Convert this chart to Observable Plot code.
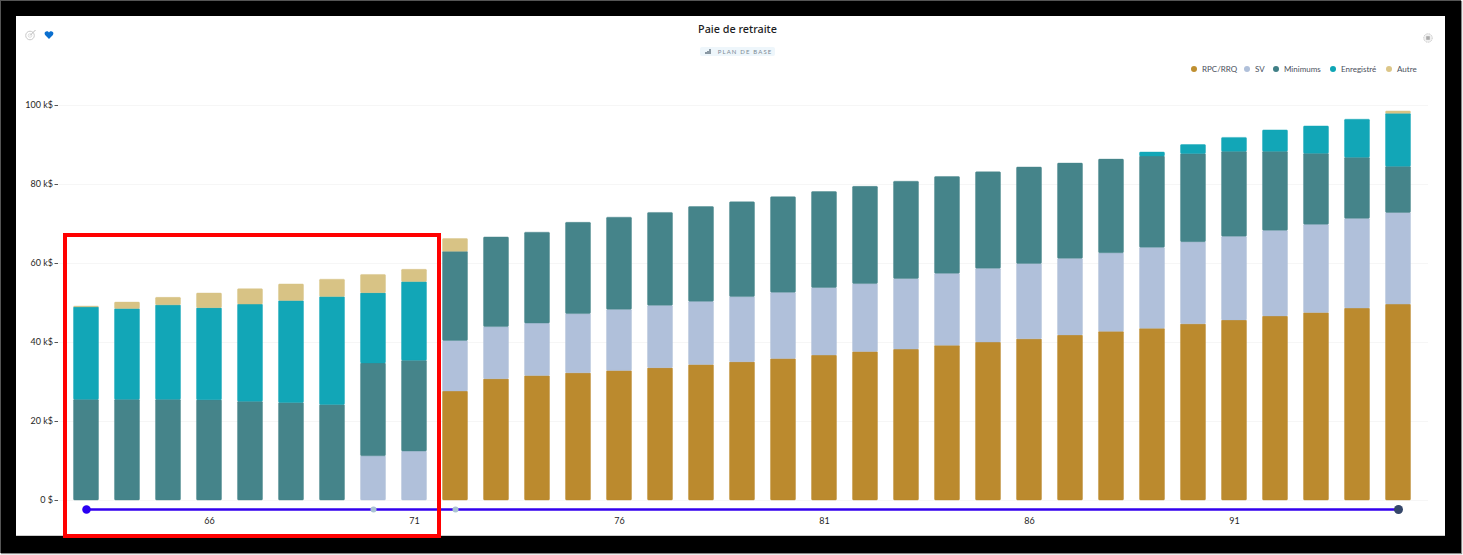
<!DOCTYPE html>
<html lang="fr">
<head>
<meta charset="utf-8">
<script src="https://cdn.jsdelivr.net/npm/d3@7"></script>
<script src="https://cdn.jsdelivr.net/npm/@observablehq/plot@0.6"></script>
<style>
  html, body { margin: 0; padding: 0; background: #fff; width: 1463px; height: 555px; overflow: hidden; font-family: "Lato", sans-serif; }
  #frame { position: absolute; left: 0; top: 0; width: 1461px; height: 553px; background: #000; border-top: 1px solid #555; border-left: 1px solid #555; box-sizing: border-box; box-shadow: 1px 1px 1px #888; }
  #panel { position: absolute; left: 16px; top: 16px; width: 1429px; height: 520px; background: #fff; border-bottom: 1px solid #ccc; box-sizing: border-box; }
  #chart { position: absolute; left: 0; top: 0; }
  #chart svg { background: transparent; display: block; }
  #title { position: absolute; left: 537.5px; width: 400px; top: 21px; text-align: center; font-family: "Noto Sans", sans-serif; font-size: 10.8px; font-weight: 500; color: #1c1c22; line-height: 16px; }
  #badge { position: absolute; left: 700px; top: 47px; width: 75px; height: 9px; background: #eef6fb; border-radius: 2px; font-size: 6px; letter-spacing: 1.15px; color: #7d8a94; line-height: 9px; text-align: right; padding-right: 2.5px; box-sizing: border-box; white-space: nowrap; }
  #badge svg { position: absolute; left: 5px; top: 2px; }
  .legend-item { position: absolute; top: 62.5px; height: 13px; line-height: 13px; font-size: 8px; color: #4a4f5c; white-space: nowrap; }
  .legend-dot { position: absolute; top: 68.5px; width: 6px; height: 6px; margin: -3px 0 0 -3px; border-radius: 50%; }
  #redbox { position: absolute; left: 63px; top: 233px; width: 378px; height: 305px; border: 4px solid #ff0000; box-sizing: border-box; }
  .icon { position: absolute; }
</style>
</head>
<body>
<div id="frame"></div>
<div id="panel"></div>
<div id="chart"></div>
<div id="title">Paie de retraite</div>
<div id="badge"><svg width="7" height="5" viewBox="0 0 7 5"><path d="M0 5V3h2V2h2V0h2v5z" fill="#8a98a3"/></svg>PLAN DE BASE</div>
<div id="legend"></div>
<svg class="icon" style="left:24px;top:29px" width="13" height="12" viewBox="0 0 13 12"><circle cx="6" cy="6.5" r="4.3" fill="none" stroke="#c9c9c9" stroke-width="1"/><circle cx="6" cy="6.5" r="1.8" fill="none" stroke="#d4d4d4" stroke-width="0.8"/><path d="M6 6.5L11.5 1" stroke="#bbb" stroke-width="1"/></svg>
<svg class="icon" style="left:44px;top:31px" width="10" height="8" viewBox="0 0 10 9"><path d="M5 9L0.6 4.4C-0.6 2.8 0.2 0.3 2.5 0.2 3.6 0.2 4.5 0.8 5 1.6 5.5 0.8 6.4 0.2 7.5 0.2 9.8 0.3 10.6 2.8 9.4 4.4z" fill="#0a6fcf"/></svg>
<svg class="icon" style="left:1423px;top:33px" width="10" height="10" viewBox="0 0 10 10"><circle cx="5" cy="5" r="4.3" fill="#f0f0f0" stroke="#c4c4c4" stroke-width="0.9" stroke-dasharray="1.2 0.7"/><rect x="3.2" y="3.2" width="3.6" height="3.6" fill="#aaa"/></svg>
<div id="redbox"></div>
<script>
const ages = [63,64,65,66,67,68,69,70,71,72,73,74,75,76,77,78,79,80,81,82,83,84,85,86,87,88,89,90,91,92,93,94,95];
const seriesNames = ["RPC/RRQ","SV","Minimums","Enregistré","Autre"];
const seriesColors = ["#bb8a2e","#b0c0da","#45848a","#12a6b7","#d8c385"];
const legendSwatches = ["#bf8f30","#b0c0da","#3f7f86","#0ea5b5","#dcc688"];
const rpc = [0,0,0,0,0,0,0,0,0,27.6,30.7,31.5,32.2,32.8,33.5,34.3,35.0,35.8,36.7,37.6,38.2,39.2,40.0,40.8,41.8,42.7,43.5,44.6,45.6,46.6,47.5,48.6,49.6];
const sv = [0,0,0,0,0,0,0,11.2,12.4,12.8,13.2,13.3,15.0,15.5,15.8,16.0,16.5,16.8,17.1,17.2,17.9,18.2,18.7,19.1,19.4,19.9,20.5,20.8,21.2,21.7,22.3,22.7,23.2];
const minimums = [25.5,25.5,25.5,25.4,25.0,24.7,24.2,23.5,23.0,22.6,22.7,23.0,23.1,23.3,23.5,24.0,24.0,24.2,24.3,24.6,24.6,24.5,24.4,24.4,24.1,23.7,23.1,22.3,21.5,20.0,18.0,15.5,11.7];
const enregistre = [23.4,23.0,23.9,23.3,24.6,25.8,27.3,17.8,19.9,0,0,0,0,0,0,0,0,0,0,0,0,0,0,0,0,0,1.0,2.3,3.5,5.4,6.9,9.6,13.4];
const autre = [0.2,1.6,1.9,3.7,3.9,4.2,4.4,4.6,3.1,3.2,0,0,0,0,0,0,0,0,0,0,0,0,0,0,0,0,0,0,0,0,0,0,0.6];
const seriesValues = [rpc, sv, minimums, enregistre, autre];
const yTicks = [0,20,40,60,80,100];
const xTicks = [66,71,76,81,86,91];
const trackLevel = -2.28;
const trackMarkers = [
  {age: 63, color: "#2a00f2", r: 4},
  {age: 70, color: "#a9c3d2", r: 2},
  {age: 72, color: "#a9c3d2", r: 2},
  {age: 95, color: "#35476a", r: 4.5}
];
const legendDotX = [1194,1247,1276,1333,1389];
const legendTextX = [1202,1255,1284,1341,1397];

const rows = seriesNames.flatMap((name, s) =>
  ages.map((age, i) => ({age, name, value: seriesValues[s][i]})).filter(d => d.value > 0));
const track = ages.map(age => ({age, v: trackLevel}));

const chart = Plot.plot({
  width: 1463,
  height: 555,
  marginTop: 105,
  marginBottom: 55,
  marginLeft: 58,
  marginRight: 35,
  style: {background: "transparent", fontFamily: "'Lato', sans-serif", fontSize: "9px", color: "#1f1f26", overflow: "visible"},
  x: {type: "band", domain: ages, range: [65.5, 1418.5], paddingInner: 0.39, paddingOuter: 0.195, round: false, axis: null},
  y: {domain: [0, 100], axis: null},
  color: {domain: seriesNames, range: seriesColors},
  marks: [
    Plot.gridY(yTicks, {stroke: "#f6f6f6", strokeOpacity: 1}),
    Plot.barY(rows, {
      x: "age", y: "value", z: "name", fill: "name", stroke: "name",
      strokeOpacity: 0.4, strokeWidth: 1, rx: 1,
      order: seriesNames
    }),
    Plot.line(track, {x: "age", y: "v", stroke: "#3300ee", strokeWidth: 2.4}),
    Plot.dot(trackMarkers, {x: "age", y: () => trackLevel, r: "r", fill: "color", stroke: null}),
    Plot.axisY({ticks: yTicks, tickFormat: d => d === 0 ? "0 $" : d + " k$", tickSize: 3.5, tickPadding: 2, label: null, stroke: "#555"}),
    Plot.axisX({ticks: xTicks, tickSize: 0, tickPadding: 17, label: null})
  ]
});
document.getElementById("chart").appendChild(chart);

const legend = document.getElementById("legend");
seriesNames.forEach((name, i) => {
  const dot = document.createElement("div");
  dot.className = "legend-dot";
  dot.style.left = legendDotX[i] + "px";
  dot.style.background = legendSwatches[i];
  legend.appendChild(dot);
  const label = document.createElement("div");
  label.className = "legend-item";
  label.style.left = legendTextX[i] + "px";
  label.textContent = name;
  legend.appendChild(label);
});
</script>
</body>
</html>
